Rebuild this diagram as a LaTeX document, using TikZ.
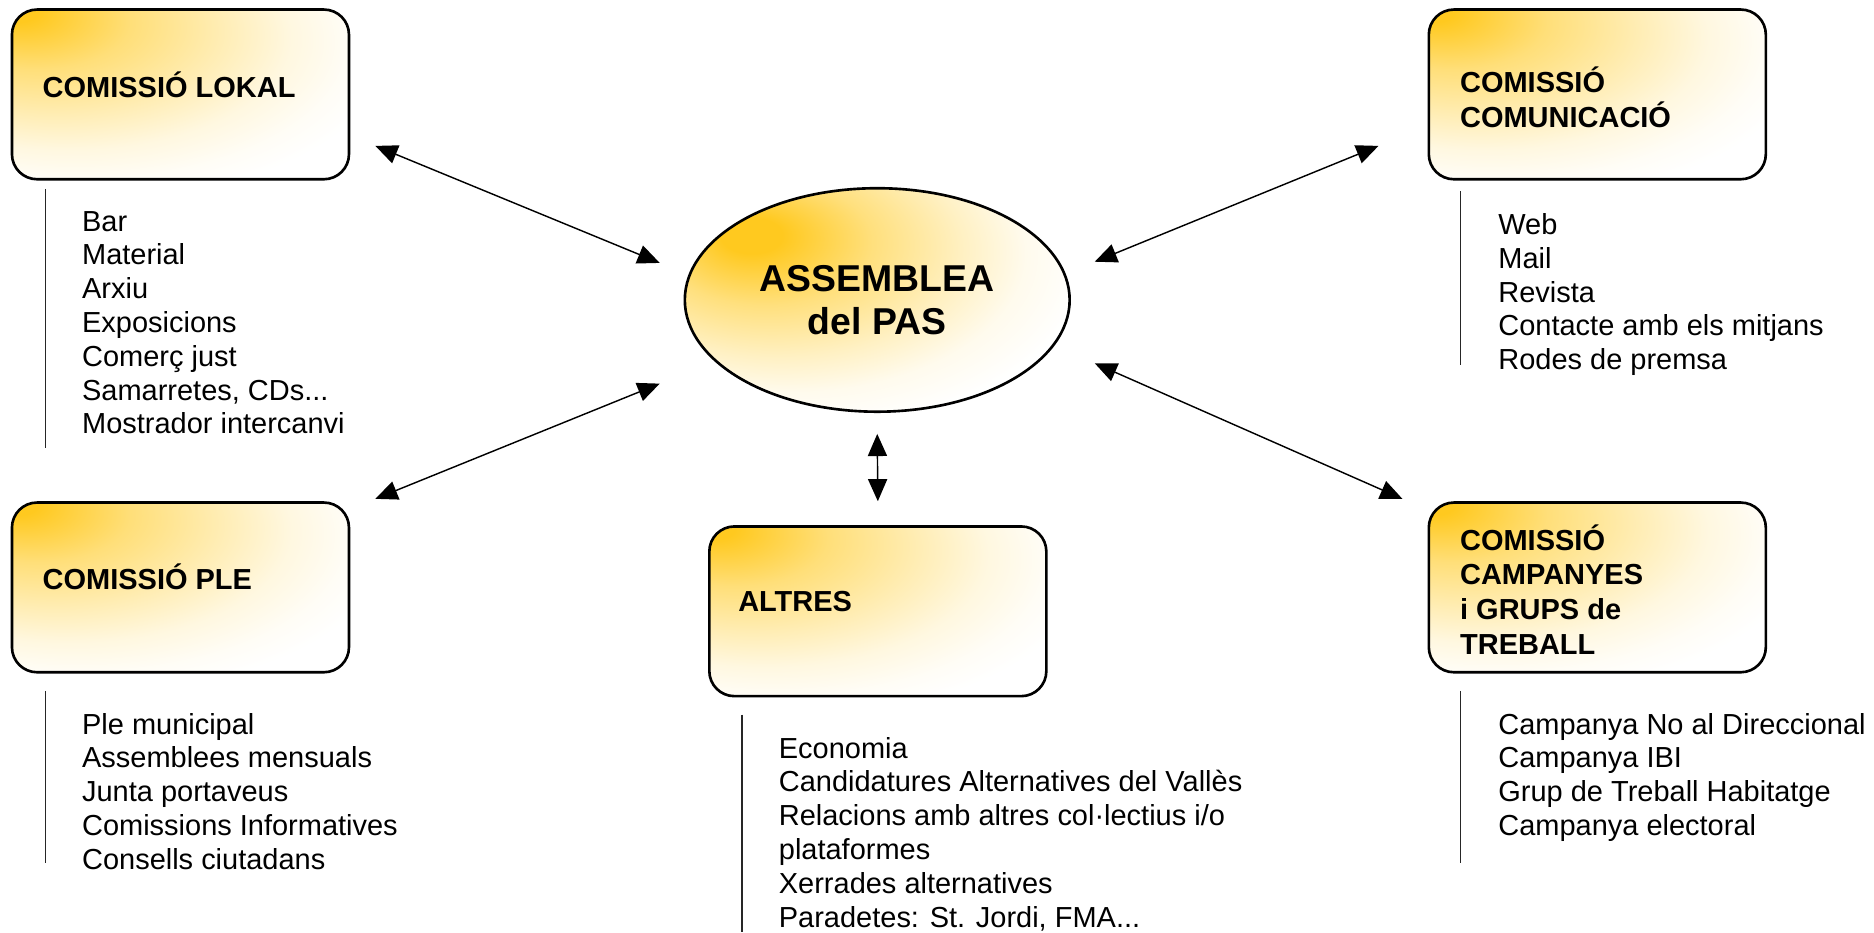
\documentclass[tikz,border=0pt]{standalone}
\usepackage{fontspec}
\setmainfont{Liberation Sans}
\usetikzlibrary{shapes.geometric,arrows.meta,calc}
\definecolor{goldA}{HTML}{FFC91F}
\pgfdeclareradialshading{cornergold}{\pgfpoint{-25bp}{25bp}}{color(0bp)=(goldA); color(3bp)=(goldA); color(14bp)=(goldA!60); color(25bp)=(goldA!33); color(33bp)=(goldA!14); color(40bp)=(goldA!4); color(45bp)=(white); color(100bp)=(white)}
\pgfdeclareradialshading{ellgold}{\pgfpoint{-17bp}{15bp}}{color(0bp)=(goldA); color(4bp)=(goldA); color(14bp)=(goldA!58); color(24bp)=(goldA!27); color(31bp)=(goldA!8); color(38bp)=(white); color(100bp)=(white)}
\tikzset{
  combox/.style={draw=black, line width=0.22mm, rounded corners=2.1mm, shading=cornergold,
    minimum width=28.2mm, minimum height=14.2mm, inner sep=0pt},
  boxtitle/.style={anchor=west, inner sep=0pt, align=left,
    font=\fontsize{6.9pt}{8.25pt}\selectfont\bfseries},
  listtxt/.style={anchor=north west, inner sep=0pt, align=left,
    font=\fontsize{6.9pt}{8.05pt}\selectfont},
  vline/.style={draw=black!85, line width=0.12mm},
  dbl/.style={line width=0.12mm, {Triangle[length=1.85mm,width=1.6mm]}-{Triangle[length=1.85mm,width=1.6mm]}}
}
\begin{document}
\begin{tikzpicture}[x=0.1mm, y=-0.1mm]
\useasboundingbox (0,0) rectangle (1568,780);
% central ellipse
\node[ellipse, draw=black, line width=0.22mm, shading=ellgold, minimum width=32.2mm,
      minimum height=18.7mm, inner sep=0pt, align=center,
      font=\fontsize{8.9pt}{10.3pt}\selectfont\bfseries] (pas) at (734,251) {ASSEMBLEA\\del PAS};
% boxes
\node[combox] (lokal) at (151,79) {};
\node[combox] (comu) at (1336.5,79) {};
\node[combox] (ple) at (151,491.5) {};
\node[combox] (altres) at (734.5,511.5) {};
\node[combox] (camp) at (1336.5,491.5) {};
% titles
\node[boxtitle] (tlokal) at (35,71) {COMISSIÓ LOKAL};
\node[boxtitle] (tcomu) at (1221,81.5) {COMISSIÓ\\COMUNICACIÓ};
\node[boxtitle] (tple) at (35,483) {COMISSIÓ PLE};
\node[boxtitle] (taltres) at (617,503) {ALTRES};
\node[boxtitle] (tcamp) at (1221,493) {COMISSIÓ\\CAMPANYES\\i GRUPS de\\TREBALL};
% lists
\node[listtxt] (llokal) at (68,176) {Bar\\Material\\Arxiu\\Exposicions\\Comerç just\\Samarretes, CDs...\\Mostrador intercanvi};
\node[listtxt] (lcomu) at (1253,178) {Web\\Mail\\Revista\\Contacte amb els mitjans\\Rodes de premsa};
\node[listtxt] (lple) at (68,596) {Ple municipal\\Assemblees mensuals\\Junta portaveus\\Comissions Informatives\\Consells ciutadans};
\node[listtxt] (laltres) at (651,616) {Economia\\Candidatures Alternatives del Vallès\\Relacions amb altres col·lectius i/o\\plataformes\\Xerrades alternatives\\Paradetes: St. Jordi, FMA...};
\node[listtxt] (lcamp) at (1253,596) {Campanya No al Direccional\\Campanya IBI\\Grup de Treball Habitatge\\Campanya electoral};
% side lines
\draw[vline] (38,158) -- (38,375);
\draw[vline] (1222,160) -- (1222,305);
\draw[vline] (38,578) -- (38,722);
\draw[vline] (621,598) -- (621,780);
\draw[vline] (1222,578) -- (1222,722);
% arrows
\draw[dbl] ($(lokal.south east)+(21,-29)$) -- ($(pas.center)+(-182,-31)$);
\draw[dbl] ($(pas.center)+(-182,70)$) -- ($(ple.north east)+(21,-2)$);
\draw[dbl] ($(comu.south west)+(-41,-29)$) -- ($(pas.center)+(182,-32)$);
\draw[dbl] ($(pas.center)+(182,53)$) -- ($(camp.north west)+(-21,-2)$);
\draw[dbl] ($(pas.south)+(0,17.5)$) -- ($(altres.north)+(0,-20)$);
\end{tikzpicture}
\end{document}
